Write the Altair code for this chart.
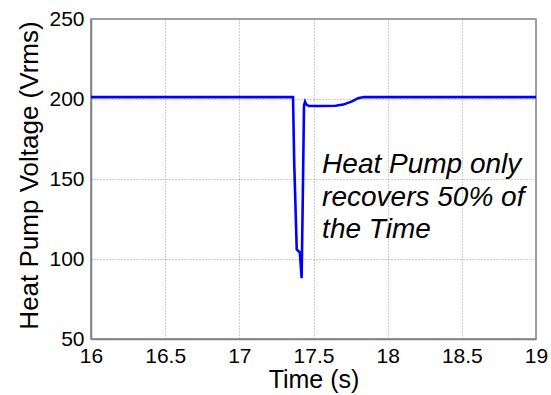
import altair as alt
import pandas as pd

# Time (s) and heat pump voltage (Vrms)
time_s = [16.0, 17.362, 17.37, 17.387, 17.408, 17.42, 17.428, 17.436, 17.443,
          17.452, 17.47, 17.55, 17.65, 17.70, 17.76, 17.80, 17.84, 19.0]
voltage = [201.2, 201.2, 160.0, 106.0, 104.0, 88.0, 140.0, 196.0, 198.3,
           196.5, 195.6, 195.6, 195.8, 196.5, 198.5, 200.5, 201.2, 201.2]

x_ticks = [16, 16.5, 17, 17.5, 18, 18.5, 19]
y_ticks = [50, 100, 150, 200, 250]

note_lines = ["Heat Pump only", "recovers 50% of", "the Time"]
note_t = [17.558]
note_v = [153.7]

FONT = "Liberation Sans"

df = pd.DataFrame({"t": time_s, "v": voltage, "order": list(range(len(time_s)))})
note_df = pd.DataFrame({"t": note_t, "v": note_v, "label": [note_lines]})

x_enc = alt.X(
    "t:Q",
    scale=alt.Scale(domain=[16, 19], nice=False, zero=False),
    axis=alt.Axis(
        values=x_ticks, title="Time (s)", format="~g",
        labelFontSize=21, titleFontSize=25, labelFont=FONT, titleFont=FONT,
        labelColor="#000000", titleColor="#000000", titleFontWeight="normal",
        labelPadding=6, titlePadding=1, ticks=False,
        domainColor="#808080", domainWidth=1.5,
        grid=True, gridColor="#9a9a9a", gridDash=[1, 2], gridWidth=1,
        labelFlush=False, labelOverlap=False,
    ),
)
y_enc = alt.Y(
    "v:Q",
    scale=alt.Scale(domain=[50, 250], nice=False, zero=False),
    axis=alt.Axis(
        values=y_ticks, title="Heat Pump Voltage (Vrms)",
        labelFontSize=21, titleFontSize=26, labelFont=FONT, titleFont=FONT,
        labelColor="#000000", titleColor="#000000", titleFontWeight="normal",
        labelPadding=7, titlePadding=6, ticks=False, titleY=156,
        domainColor="#808080", domainWidth=1.5,
        grid=True, gridColor="#9a9a9a", gridDash=[1, 2], gridWidth=1,
        labelFlush=False, labelOverlap=False,
    ),
)

line = alt.Chart(df).mark_line(color="#0000ff", strokeWidth=2.6, clip=True).encode(
    x=x_enc, y=y_enc, order="order:Q"
)

note = alt.Chart(note_df).mark_text(
    align="left", baseline="alphabetic", fontSize=28, fontStyle="italic",
    font=FONT, color="#000000", lineHeight=32.5,
).encode(x="t:Q", y="v:Q", text="label")

chart = (
    alt.layer(line, note)
    .properties(
        width=445, height=320,
        autosize=alt.AutoSizeParams(type="none"),
        padding={"left": 91, "top": 19, "right": 15, "bottom": 56},
        background="#ffffff",
    )
    .configure_view(stroke="#808080", strokeWidth=1.5)
)

chart.save("out.html", embed_options={"renderer": "svg", "actions": False})
